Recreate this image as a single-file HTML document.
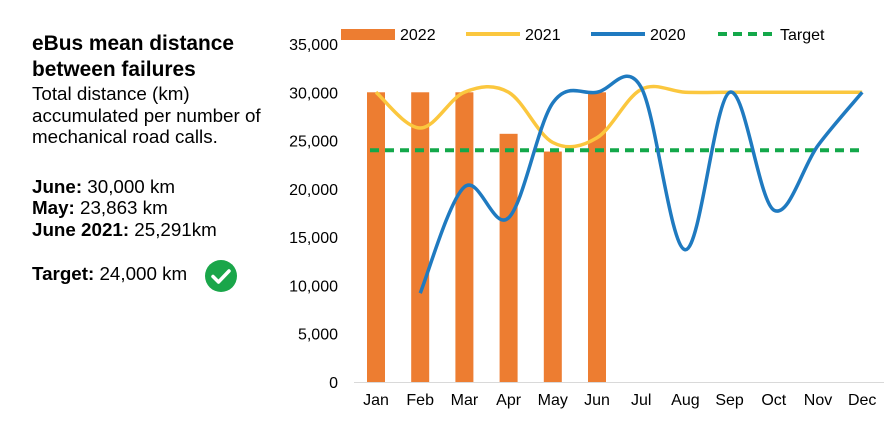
<!DOCTYPE html>
<html><head><meta charset="utf-8">
<style>
body{margin:0;width:892px;height:440px;background:#fff;font-family:"Liberation Sans",Arial,sans-serif;overflow:hidden;position:relative}
.side{position:absolute;left:32px;top:31px;width:270px;color:#000}
.t{font-weight:bold;font-size:20.9px;line-height:26px}
.d{font-size:18.8px;line-height:21.5px}
.s{font-size:18.8px;line-height:21.5px}
</style></head><body>
<div class="side">
<div class="t">eBus mean distance<br>between failures</div>
<div class="d">Total distance (km)<br>accumulated per number of<br>mechanical road calls.</div>
<div class="s" style="margin-top:28px"><b>June:</b> 30,000 km</div>
<div class="s"><b>May:</b> 23,863 km</div>
<div class="s"><b>June 2021:</b> 25,291km</div>
<div class="s" style="margin-top:23px"><b>Target:</b> 24,000 km</div>
</div>
<svg width="34" height="34" style="position:absolute;left:204px;top:259px">
<circle cx="17" cy="17" r="16" fill="#1aa64a"/><path d="M9 17.5l5.5 5.5L25 12" stroke="#fff" stroke-width="3.5" fill="none" stroke-linecap="round" stroke-linejoin="round"/></svg>
<svg id="c" width="892" height="440" style="position:absolute;left:0;top:0"></svg>
<script>
const categories=["Jan","Feb","Mar","Apr","May","Jun","Jul","Aug","Sep","Oct","Nov","Dec"];
const values2022=[30000,30000,30000,25700,23863,30000];
const values2021=[30000,26300,30000,30000,24800,25291,30300,30000,30000,30000,30000,30000];
const values2020=[null,9200,20200,17000,28900,30000,30500,13700,30000,17800,24500,30000];
const targetValue=24000;
const yTicks=[0,5000,10000,15000,20000,25000,30000,35000];
const NS="http://www.w3.org/2000/svg",svg=document.getElementById("c");
const x=i=>376+i*44.2, y=v=>382-v*(338/35000);
function el(t,a,p){const e=document.createElementNS(NS,t);for(const k in a)e.setAttribute(k,a[k]);(p||svg).appendChild(e);return e;}
yTicks.forEach(v=>{const t=el("text",{x:338,y:y(v)+6,"text-anchor":"end","font-size":16,fill:"#000"});t.textContent=v.toLocaleString("en-US");

});
el("line",{x1:354,x2:884,y1:382.5,y2:382.5,stroke:"#d9d9d9"});
categories.forEach((c,i)=>{const t=el("text",{x:x(i),y:405,"text-anchor":"middle","font-size":16,fill:"#000"});t.textContent=c;

});
values2022.forEach((v,i)=>{const r=el("rect",{x:x(i)-9,y:y(v),width:18,height:382-y(v),fill:"#ed7d31"});

});
function smooth(vals){const p=[];vals.forEach((v,i)=>{if(v!=null)p.push([x(i),y(v)]);});
let d="M"+p[0][0]+","+p[0][1];const k=0.17;
for(let i=0;i<p.length-1;i++){const p0=p[i-1]||p[i],p1=p[i],p2=p[i+1],p3=p[i+2]||p2;
d+=` C${p1[0]+(p2[0]-p0[0])*k},${p1[1]+(p2[1]-p0[1])*k} ${p2[0]-(p3[0]-p1[0])*k},${p2[1]-(p3[1]-p1[1])*k} ${p2[0]},${p2[1]}`;}return d;}
const l21=el("path",{d:smooth(values2021),stroke:"#fbc73e",fill:"none","stroke-width":3.5});


const tl=el("line",{x1:x(0)-6,x2:x(11),y1:y(targetValue),y2:y(targetValue),stroke:"#13a84a","stroke-width":4,"stroke-dasharray":"9,6"});


const l20=el("path",{d:smooth(values2020),stroke:"#1f7ac0",fill:"none","stroke-width":3.5});


const lg=el("g",{});


el("rect",{x:341,y:29,width:54,height:11,fill:"#ed7d31"},lg);
el("line",{x1:466,x2:520,y1:34,y2:34,stroke:"#fbc73e","stroke-width":4},lg);
el("line",{x1:591,x2:645,y1:34,y2:34,stroke:"#1f7ac0","stroke-width":4},lg);
el("line",{x1:718,x2:775,y1:34,y2:34,stroke:"#13a84a","stroke-width":4,"stroke-dasharray":"9,6"},lg);
[["2022",400],["2021",525],["2020",650],["Target",780]].forEach(([s,xx])=>{const t=el("text",{x:xx,y:40,"font-size":16},lg);t.textContent=s;});
</script>
</body></html>
